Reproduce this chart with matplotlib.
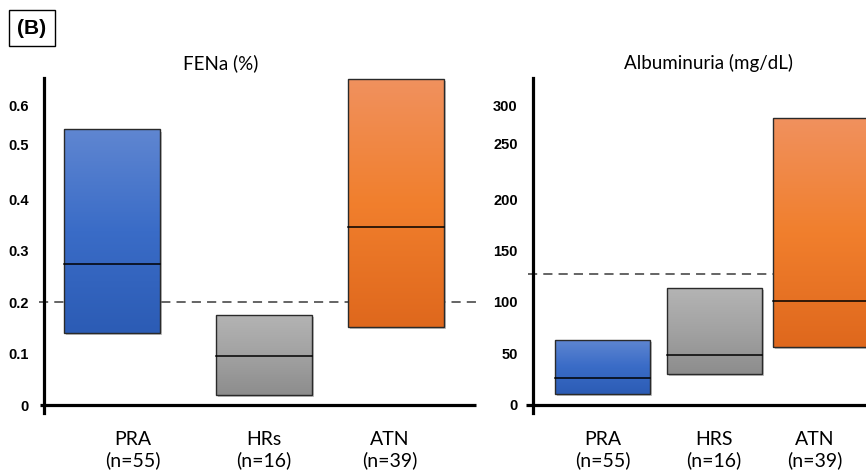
import numpy as np
import matplotlib
matplotlib.use("Agg")
import matplotlib.pyplot as plt
from matplotlib.patches import Rectangle
from matplotlib.colors import LinearSegmentedColormap
from matplotlib import patheffects as pe

# data
groups_fena = ["PRA", "HRs", "ATN"]
groups_alb = ["PRA", "HRS", "ATN"]
n_pat = [55, 16, 39]

fena_low = [0.140, 0.019, 0.151]
fena_med = [0.274, 0.095, 0.346]
fena_high = [0.536, 0.175, 0.635]
fena_cut = 0.2

alb_low = [10.5, 30, 56]
alb_med = [26, 48.5, 101]
alb_high = [63, 113.5, 278.5]
alb_cut = 127

fena_ticks = ["0", "0.1", "0.2", "0.3", "0.4", "0.5", "0.6"]
alb_ticks = ["0", "50", "100", "150", "200", "250", "300"]

# gradient colours (top -> bottom)
grads = [
    ["#5f86d1", "#3a6cc7", "#2c5cb5"],
    ["#b4b4b4", "#a2a2a2", "#8d8d8d"],
    ["#f0915e", "#f17f2d", "#df681d"],
]

W, H = 866, 475
fig = plt.figure(figsize=(W / 100, H / 100), dpi=100)


def panel(x0, width, ylim, low, med, high, cut, centers, bw, lab_x, groups,
          tick_pos, tick_lab, xaxis_from):
    ax = fig.add_axes([x0 / W, 62 / H, width / W, 335 / H])
    ax.set_xlim(0, width / 100)
    ax.set_ylim(*ylim)
    for s in ["top", "right", "bottom"]:
        ax.spines[s].set_visible(False)
    ax.spines["left"].set_linewidth(2.3)
    # x axis line crossing the y axis
    ax.plot([xaxis_from, 1], [0, 0], transform=ax.get_yaxis_transform(),
            color="black", lw=2.3, clip_on=False, solid_capstyle="butt")
    ax.axhline(cut, color="#3a3a3a", lw=1.1, ls=(0, (6, 4)), zorder=1,
               xmin=-0.012, clip_on=False)
    for i in range(3):
        c = centers[i]
        x1, x2 = c - bw / 2, c + bw / 2
        rect = Rectangle((x1, low[i]), bw, high[i] - low[i], facecolor="white",
                         edgecolor="none", zorder=2,
                         path_effects=[pe.SimplePatchShadow(offset=(1.5, -1.5),
                                                            shadow_rgbFace="#555555",
                                                            alpha=0.35),
                                       pe.Normal()])
        ax.add_patch(rect)
        cmap = LinearSegmentedColormap.from_list("g%d" % i, grads[i])
        img = ax.imshow(np.linspace(0, 1, 100).reshape(-1, 1), cmap=cmap,
                        extent=[x1, x2, low[i], high[i]], origin="upper",
                        aspect="auto", zorder=3, interpolation="bilinear")
        img.set_clip_path(rect)
        ax.add_patch(Rectangle((x1, low[i]), bw, high[i] - low[i],
                               facecolor="none", edgecolor="#2a2a2a", lw=1.0,
                               zorder=4))
        ax.plot([x1, x2], [med[i], med[i]], color="black", lw=1.1, zorder=5)
    ax.set_xlim(0, width / 100)
    ax.set_ylim(*ylim)
    ax.set_xticks(lab_x)
    ax.set_xticklabels(["%s\n(n=%d)" % (g, n) for g, n in zip(groups, n_pat)],
                       fontfamily="Lato", fontsize=14, linespacing=1.22)
    ax.tick_params(axis="x", length=0, pad=13)
    ax.set_yticks(tick_pos)
    ax.set_yticklabels(tick_lab, fontfamily="Liberation Sans",
                       fontweight="bold", fontsize=10.5)
    ax.tick_params(axis="y", length=0, pad=11)
    return ax


panel(44, 432, (-0.0155, 0.636), fena_low, fena_med, fena_high, fena_cut,
      [0.68, 2.20, 3.52], 0.96, [0.89, 2.20, 3.46], groups_fena,
      [0, 0.1, 0.2, 0.3, 0.4, 0.507, 0.583], fena_ticks, -4 / 432)

panel(533, 433, (-7.8, 317.5), alb_low, alb_med, alb_high, alb_cut,
      [0.695, 1.81, 2.87], 0.95, [0.70, 1.81, 2.82], groups_alb,
      [0, 50, 100, 150, 200, 254, 291], alb_ticks, -7 / 433)

fig.text(221 / W, 1 - 63 / H, "FENa (%)", fontfamily="Lato", fontsize=13.5,
         ha="center", va="center")
fig.text(708 / W, 1 - 63 / H, "Albuminuria (mg/dL)", fontfamily="Lato",
         fontsize=13.5, ha="center", va="center")
fig.text(32 / W, 1 - 28 / H, "(B)", fontfamily="Liberation Sans",
         fontweight="bold", fontsize=15, ha="center", va="center",
         bbox=dict(boxstyle="square,pad=0.4", facecolor="white",
                   edgecolor="black", lw=1))

fig.savefig("out.png", dpi=100)
